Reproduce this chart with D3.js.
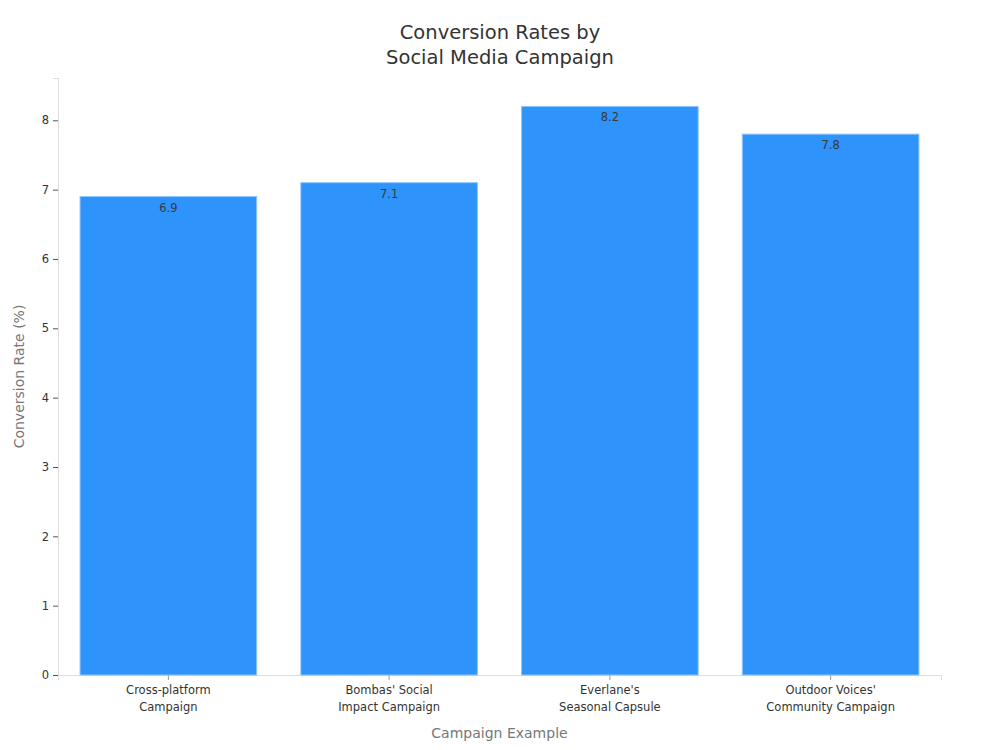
<!DOCTYPE html>
<html>
<head>
<meta charset="utf-8">
<script src="https://cdn.jsdelivr.net/npm/d3@7"></script>
<style>
  body { margin: 0; background: #fff; }
  text { font-family: "DejaVu Sans", sans-serif; }
</style>
</head>
<body>
<div id="chart"></div>
<script>
// chart data
const campaigns = [
    ["Cross-platform", "Campaign"],
    ["Bombas' Social", "Impact Campaign"],
    ["Everlane's", "Seasonal Capsule"],
    ["Outdoor Voices'", "Community Campaign"]
];
const conversionRates = [6.9, 7.1, 8.2, 7.8];
const yTicks = [0, 1, 2, 3, 4, 5, 6, 7, 8];

const svgWidth = 1000;
const svgHeight = 750;

const margin = { top: 78, right: 59, bottom: 75, left: 58 };

const chartWidth = svgWidth - margin.left - margin.right;
const chartHeight = svgHeight - margin.top - margin.bottom;

const svg = d3.select("#chart")
    .append("svg")
    .attr("width", svgWidth)
    .attr("height", svgHeight);

const chartGroup = svg.append("g")
    .attr("transform", `translate(${margin.left}, ${margin.top})`);

const keys = campaigns.map(c => c.join(" "));

const xScale = d3.scaleBand()
    .domain(keys)
    .range([0, chartWidth])
    .paddingInner(0.2)
    .paddingOuter(0.1);

const yScale = d3.scaleLinear()
    .domain([0, d3.max(conversionRates) * 1.05])
    .range([chartHeight, 0]);

// y axis
const yAxis = chartGroup.append("g")
    .call(d3.axisLeft(yScale).tickValues(yTicks).tickSize(5).tickPadding(4));
yAxis.select(".domain").attr("stroke", "#ddd");
yAxis.selectAll(".tick line").attr("stroke", "#555");
yAxis.selectAll(".tick text").attr("fill", "#333").style("font-size", "11.5px");

// x axis
const xAxis = chartGroup.append("g")
    .attr("transform", `translate(0, ${chartHeight})`)
    .call(d3.axisBottom(xScale).tickSize(5).tickFormat(""));
xAxis.select(".domain").attr("stroke", "#ddd");
xAxis.selectAll(".tick line").attr("stroke", "#999");

// two-line category labels
xAxis.selectAll(".tick").each(function(d, i) {
    const t = d3.select(this).append("text")
        .attr("fill", "#333")
        .attr("text-anchor", "middle")
        .style("font-size", "11.5px")
        .attr("y", 19);
    campaigns[i].forEach((line, j) => {
        t.append("tspan")
            .attr("x", 0)
            .attr("dy", j === 0 ? 0 : 17)
            .text(line);
    });
});

// bars
const bars = chartGroup.selectAll(".bar")
    .data(conversionRates)
    .enter()
    .append("g");

bars.append("rect")
    .attr("x", (d, i) => xScale(keys[i]))
    .attr("y", d => yScale(d))
    .attr("width", xScale.bandwidth())
    .attr("height", d => chartHeight - yScale(d))
    .attr("fill", "#2e93fa")
    .attr("stroke", "#8cc4fb")
    .attr("stroke-width", 1);

// value labels
bars.append("text")
    .attr("x", (d, i) => xScale(keys[i]) + xScale.bandwidth() / 2)
    .attr("y", d => yScale(d) + 15)
    .attr("text-anchor", "middle")
    .attr("fill", "#3a3a3a")
    .style("font-size", "11.5px")
    .text(d => d.toFixed(1));

// axis titles
svg.append("text")
    .attr("x", margin.left + chartWidth / 2)
    .attr("y", 738)
    .attr("text-anchor", "middle")
    .attr("fill", "#777")
    .style("font-size", "14px")
    .text("Campaign Example");

svg.append("text")
    .attr("transform", `translate(24, ${margin.top + chartHeight / 2}) rotate(-90)`)
    .attr("text-anchor", "middle")
    .attr("fill", "#777")
    .style("font-size", "14px")
    .text("Conversion Rate (%)");

// title
const title = svg.append("text")
    .attr("x", svgWidth / 2)
    .attr("y", 39)
    .attr("text-anchor", "middle")
    .attr("fill", "#333")
    .style("font-size", "19.5px");
title.append("tspan").attr("x", svgWidth / 2).text("Conversion Rates by");
title.append("tspan").attr("x", svgWidth / 2).attr("dy", 25).text("Social Media Campaign");
</script>
</body>
</html>
